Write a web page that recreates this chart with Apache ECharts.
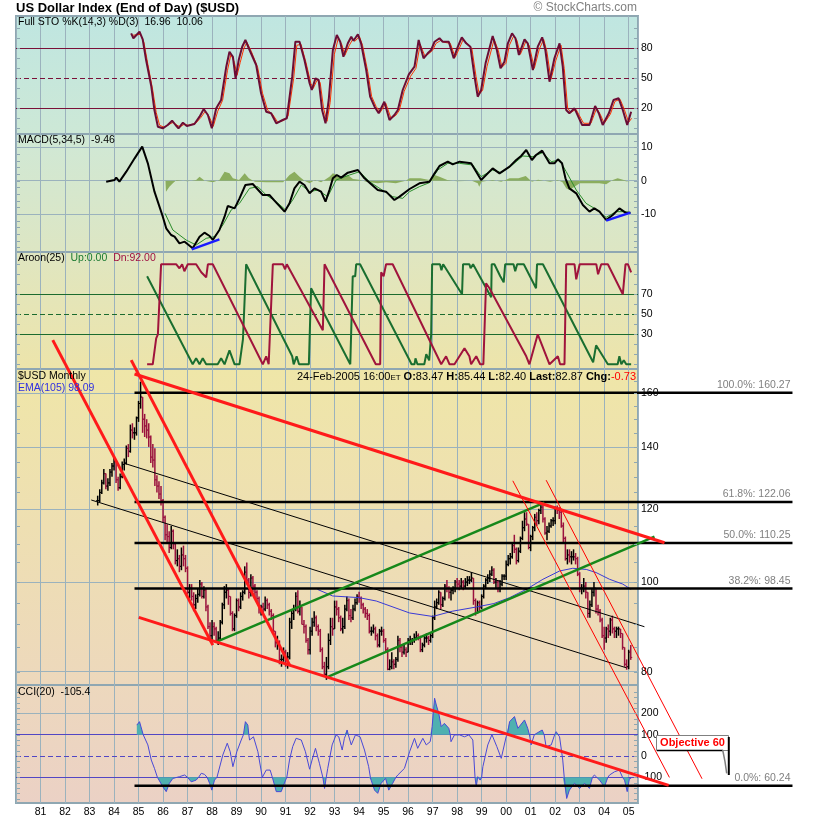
<!DOCTYPE html>
<html><head><meta charset="utf-8">
<script src="https://cdn.jsdelivr.net/npm/echarts@6/dist/echarts.min.js"></script>
<style>html,body{margin:0;padding:0;background:#fff}#c{width:820px;height:820px}</style>
</head><body><div id="c"></div>
<script>
// ---------------- DATA ----------------
const yearRange = [1980, 2005.38];
const usdFirstMonth = [1983, 5];
const usdClose = [
122.5,125.0,128.0,131.0,127.0,128.0,131.5,133.5,
135.0,129.0,126.5,130.0,134.0,134.5,139.5,138.5,146.0,145.0,145.0,150.5,
156.0,158.5,150.0,147.5,146.0,143.5,136.5,135.5,129.0,127.0,124.5,122.5,
117.5,112.5,112.0,109.0,113.5,110.0,105.5,106.0,104.0,107.0,106.0,103.5,
97.5,98.5,96.5,94.5,96.0,97.0,99.5,96.5,98.0,94.0,89.5,87.5,
89.5,89.0,86.5,87.0,90.5,94.5,97.5,98.0,96.5,92.5,89.0,92.0,
95.5,94.0,96.5,97.5,102.5,100.5,97.5,101.0,99.0,97.5,96.0,93.5,
94.0,93.5,95.5,94.5,93.0,92.0,88.5,86.0,86.0,82.5,82.5,84.0,
81.5,83.0,90.5,92.5,93.5,96.5,93.0,94.0,90.0,89.5,86.5,84.5,
88.5,90.5,91.5,89.5,88.5,84.5,81.0,79.5,81.0,86.5,89.5,89.0,
94.0,93.5,91.5,89.0,89.5,93.5,95.5,92.0,91.5,93.5,95.0,96.5,
96.0,94.5,93.5,92.5,92.0,88.5,88.5,89.0,87.5,85.5,88.5,88.5,
86.5,84.5,80.5,81.0,82.0,81.5,82.5,86.5,85.0,84.0,84.5,84.0,
86.5,86.5,86.5,87.0,87.5,87.0,84.5,85.5,87.0,87.0,86.5,87.5,
91.5,94.0,95.0,97.5,94.5,96.0,99.0,98.5,97.5,98.0,98.5,100.0,
99.5,99.0,100.0,99.0,100.0,100.5,100.5,101.0,95.5,92.5,95.0,94.0,
96.5,99.0,100.5,101.0,102.0,103.0,100.0,100.0,98.5,99.5,101.5,101.5,
104.5,106.0,106.5,109.5,108.5,105.5,108.0,111.5,114.5,117.0,115.5,109.0,
112.0,114.5,117.5,116.5,119.5,120.5,117.0,113.0,113.5,115.0,116.5,116.5,
120.0,119.5,119.0,115.0,111.5,106.0,107.0,106.5,106.5,106.5,106.0,102.0,
98.5,98.5,99.0,97.5,92.5,94.5,97.5,98.5,93.5,93.0,91.0,87.5,
87.0,89.0,88.5,91.0,89.0,88.5,89.0,89.0,88.0,85.0,81.5,81.0,
84.0,82.9];
const usdHigh = [
124.0,126.0,129.0,132.5,131.0,129.5,132.5,134.5,
136.5,135.5,130.0,131.0,135.0,136.0,140.5,141.0,148.0,148.5,147.0,151.0,
157.0,164.7,158.5,152.0,150.0,148.5,144.0,141.0,139.5,130.5,128.5,127.0,
123.0,118.0,115.5,113.5,115.0,114.0,110.5,108.5,107.0,109.0,109.5,107.0,
104.0,99.5,99.5,97.5,97.0,98.5,100.5,100.0,99.0,98.5,94.5,90.5,
91.0,90.5,89.5,88.5,91.0,95.0,99.0,99.5,98.5,96.5,93.0,92.5,
96.0,96.0,97.5,98.0,104.0,105.0,101.0,102.0,101.5,99.5,98.0,96.5,
94.5,95.0,96.5,96.0,95.0,93.5,92.5,88.5,87.5,86.5,83.5,85.0,
84.5,84.0,91.5,93.5,94.5,97.5,98.0,95.5,94.0,91.0,90.0,87.0,
89.5,91.5,93.0,92.0,90.0,89.0,85.0,82.0,83.0,88.0,91.5,91.5,
95.5,95.5,94.0,92.0,91.5,94.5,96.5,96.0,93.5,94.5,96.0,97.0,
97.6,96.5,95.0,94.0,93.5,92.5,89.5,90.0,89.5,88.0,89.0,89.5,
89.0,87.0,85.0,82.5,84.0,82.5,83.0,87.5,87.0,85.5,85.5,85.0,
87.0,87.5,87.0,88.0,88.5,88.0,87.5,86.0,87.5,88.0,87.5,88.0,
92.0,95.5,96.0,98.0,97.5,96.5,99.5,100.5,99.0,98.5,99.0,100.5,
101.0,100.5,101.0,100.5,101.0,101.5,101.5,102.5,101.0,96.0,95.5,95.5,
97.0,99.5,101.0,102.0,103.0,104.0,103.5,101.0,100.5,100.5,102.0,102.0,
105.5,107.0,107.5,110.0,112.5,109.0,109.0,112.0,116.5,119.0,119.0,115.5,
112.5,115.0,118.5,119.0,120.0,121.5,122.0,117.5,115.0,116.0,117.0,117.5,
120.7,121.0,120.5,119.5,116.0,112.0,108.5,108.5,108.0,108.5,107.5,106.5,
102.5,99.5,101.0,100.0,97.5,95.5,98.5,100.0,98.5,94.5,93.5,91.5,
89.5,89.5,90.0,91.5,92.0,89.5,89.5,89.5,89.0,88.0,85.0,82.5,
84.5,85.5];
const usdLow = [
121.0,122.0,124.5,127.5,126.0,125.5,127.0,130.0,
132.0,128.0,125.5,126.0,129.5,132.0,134.0,136.5,138.0,143.0,142.5,144.0,
149.0,154.0,145.0,143.5,143.0,140.0,134.5,133.0,127.0,125.0,123.0,121.0,
116.0,111.0,110.0,107.5,108.5,108.5,104.5,104.0,102.5,103.0,104.0,102.5,
97.0,96.0,95.5,93.0,93.5,95.0,96.5,96.0,96.0,93.0,89.0,86.5,
85.5,87.5,86.0,85.5,86.5,90.0,93.5,96.0,94.5,92.0,88.5,88.5,
91.5,93.0,93.5,95.5,97.0,99.5,96.0,96.5,97.5,96.0,95.0,92.5,
92.0,92.5,93.0,93.5,92.0,91.0,88.0,85.0,84.5,81.5,81.0,82.0,
81.0,80.6,82.5,89.0,91.0,93.0,92.5,92.0,90.0,88.0,86.0,83.5,
83.5,87.5,89.5,88.5,87.5,84.0,80.5,79.0,78.4,80.5,85.5,87.5,
89.0,92.0,90.5,88.5,88.0,89.0,93.0,91.0,90.5,91.0,93.0,94.5,
95.0,93.5,92.5,91.5,91.0,88.0,87.5,88.0,86.5,85.0,85.0,87.5,
86.0,84.0,80.3,80.3,80.5,80.5,80.8,82.0,84.0,83.0,83.5,83.0,
84.0,85.5,85.5,86.0,86.5,86.5,84.0,84.0,85.0,86.0,85.5,86.0,
87.0,91.0,93.5,94.5,93.5,94.0,95.5,97.5,96.0,95.5,97.0,97.5,
98.5,98.0,98.5,98.0,98.5,99.0,99.5,100.0,94.5,92.0,92.5,93.0,
93.5,96.0,98.5,99.5,100.0,101.5,99.5,98.5,97.5,97.5,99.0,100.5,
100.5,104.0,104.5,106.0,107.5,104.5,105.0,107.5,111.0,113.5,115.0,108.5,
108.0,111.0,113.5,115.0,115.5,118.5,116.0,112.5,111.0,113.0,114.5,115.0,
115.5,118.5,117.0,114.5,110.5,105.5,104.5,105.0,104.5,105.5,104.5,101.5,
97.5,97.0,97.5,96.0,91.5,91.5,94.0,96.5,92.5,92.0,90.5,87.0,
84.5,86.0,87.0,87.5,88.0,87.0,87.0,87.5,87.0,84.5,81.0,80.4,
80.5,82.4];

const emaLine = [[1992.30,98.2],[1992.92,96.6],[1994.0,96.2],[1994.7,95.4],[1996.06,92.6],[1997.0,91.8],[1997.8,93.0],[1998.8,94.0],[1999.5,94.8],[2000.14,96.2],[2000.82,98.2],[2001.5,100.7],[2002.18,102.8],[2002.72,103.5],[2003.27,103.2],[2003.67,102.4],[2004.22,100.7],[2004.76,99.5],[2005.10,98.2]];

const stoK = [[1984.70,95],[1984.79,90],[1985.04,96.6],[1985.17,89],[1985.31,68],[1985.52,42],[1985.65,18],[1985.79,1.6],[1985.99,0],[1986.19,3.3],[1986.37,7.6],[1986.51,3.3],[1986.63,0],[1986.81,5.6],[1986.97,2.3],[1987.28,4.3],[1987.49,11.6],[1987.66,19.3],[1987.83,13.3],[1987.99,0],[1988.17,20],[1988.37,28.3],[1988.58,61.6],[1988.71,76.6],[1988.85,71.6],[1988.96,50],[1989.09,68.6],[1989.23,81.6],[1989.36,88.3],[1989.53,78.3],[1989.80,63.3],[1990.0,35],[1990.21,16.6],[1990.41,15],[1990.62,5],[1990.88,8.3],[1991.05,10],[1991.27,51.6],[1991.40,86.6],[1991.57,86.6],[1991.77,68.3],[1991.98,45],[1992.07,38.3],[1992.22,50],[1992.35,48.3],[1992.49,18.3],[1992.63,5],[1992.76,28.3],[1992.93,78.3],[1993.09,93.3],[1993.23,86.6],[1993.36,71.6],[1993.54,85],[1993.68,91.6],[1993.77,87.6],[1993.95,94],[1994.08,85],[1994.29,58.3],[1994.45,31.6],[1994.63,21.6],[1994.80,15],[1995.03,26.6],[1995.24,8.3],[1995.44,13.3],[1995.58,18.3],[1995.78,38.3],[1996.03,54],[1996.26,61.6],[1996.43,88.3],[1996.63,70],[1996.80,75],[1996.94,78.3],[1997.08,86.6],[1997.28,90],[1997.41,86.6],[1997.66,86.6],[1997.86,70],[1998.03,81.6],[1998.19,91],[1998.37,85],[1998.54,81.6],[1998.71,51.6],[1998.84,31.6],[1998.98,38.3],[1999.16,65],[1999.45,92.3],[1999.62,78.3],[1999.77,60],[1999.93,66.6],[2000.07,85],[2000.24,95],[2000.38,90],[2000.52,73.3],[2000.75,89],[2000.88,85],[2001.09,58.3],[2001.29,81.6],[2001.47,91],[2001.60,78.3],[2001.77,46.6],[2001.97,70],[2002.18,85],[2002.31,61.6],[2002.45,18.3],[2002.58,15],[2002.79,20],[2003.10,3.3],[2003.40,3.3],[2003.63,22.3],[2003.78,15],[2003.94,3.3],[2004.19,15],[2004.38,28.3],[2004.59,30],[2004.76,18.3],[2004.94,3.3],[2005.10,16.6]];
const stoD = [[1984.75,93],[1985.08,94],[1985.22,86],[1985.38,64],[1985.58,38],[1985.72,16],[1985.86,3],[1986.05,1],[1986.25,4],[1986.42,6],[1986.57,3],[1986.7,1.5],[1986.86,4],[1987.03,3],[1987.33,5],[1987.55,11],[1987.72,17],[1987.88,12],[1988.05,2],[1988.23,17],[1988.43,28],[1988.63,58],[1988.77,74],[1988.91,66],[1989.02,53],[1989.15,66],[1989.3,80],[1989.42,86],[1989.6,77],[1989.86,61],[1990.06,35],[1990.27,18],[1990.47,14],[1990.68,6],[1990.93,8],[1991.1,12],[1991.33,50],[1991.46,83],[1991.63,84],[1991.83,66],[1992.03,45],[1992.13,40],[1992.28,48],[1992.41,46],[1992.55,20],[1992.69,7],[1992.82,26],[1992.99,74],[1993.15,90],[1993.29,84],[1993.42,73],[1993.6,83],[1993.74,89],[1993.83,87],[1994.01,92],[1994.14,83],[1994.35,57],[1994.51,32],[1994.69,22],[1994.86,16],[1995.09,25],[1995.3,10],[1995.5,13],[1995.64,18],[1995.84,37],[1996.1,52],[1996.32,60],[1996.49,84],[1996.69,72],[1996.86,75],[1997.0,78],[1997.14,85],[1997.34,88],[1997.47,86],[1997.72,85],[1997.92,71],[1998.09,80],[1998.25,89],[1998.43,84],[1998.6,80],[1998.77,52],[1998.9,34],[1999.04,38],[1999.22,62],[1999.51,89],[1999.68,78],[1999.83,61],[1999.99,65],[2000.13,83],[2000.3,92],[2000.44,88],[2000.58,74],[2000.81,87],[2000.94,83],[2001.15,60],[2001.35,79],[2001.53,89],[2001.66,77],[2001.83,49],[2002.03,68],[2002.24,83],[2002.37,60],[2002.51,20],[2002.64,16],[2002.85,19],[2003.16,5],[2003.46,5],[2003.69,20],[2003.84,14],[2004.0,5],[2004.25,14],[2004.44,27],[2004.65,29],[2004.82,19],[2005.0,6],[2005.12,10]];

const macdLine = [[1983.68,-0.3],[1984.02,0.2],[1984.09,0.9],[1984.22,-0.3],[1984.50,2.7],[1984.84,6.7],[1985.15,10.2],[1985.38,5.2],[1985.65,-3.3],[1985.99,-10.8],[1986.13,-14.3],[1986.33,-16.3],[1986.47,-16.8],[1986.67,-18.8],[1986.88,-18.3],[1987.21,-20.3],[1987.49,-16.8],[1987.69,-15.6],[1987.90,-16.6],[1988.03,-17.8],[1988.30,-14.8],[1988.51,-10.8],[1988.64,-7.6],[1988.92,-8.3],[1989.12,-5.3],[1989.36,-1.3],[1989.66,-1],[1990.07,-4.3],[1990.34,-4.3],[1990.62,-6.6],[1990.96,-9.3],[1991.16,-6.8],[1991.36,-2.3],[1991.57,-0.3],[1991.77,-1.3],[1991.98,-3.8],[1992.18,-2.3],[1992.45,-3.3],[1992.63,-6.3],[1992.79,-2.8],[1992.93,0.7],[1993.09,1.7],[1993.27,0.9],[1993.54,2.4],[1993.95,3.2],[1994.22,0.7],[1994.76,-2.8],[1995.10,-3.3],[1995.44,-5.8],[1995.65,-4.8],[1996.06,-2.5],[1996.46,-0.8],[1996.87,-0.3],[1997.08,2.2],[1997.28,4.4],[1997.62,5.7],[1997.82,4.9],[1998.10,5.7],[1998.57,5.2],[1998.98,0.2],[1999.45,3.7],[1999.73,2.2],[2000.14,4.2],[2000.41,6.2],[2000.61,7.4],[2000.82,9.2],[2001.05,6.2],[2001.22,7.7],[2001.47,9],[2001.77,5.2],[2001.97,5.2],[2002.11,6.4],[2002.28,5.2],[2002.42,0.7],[2002.58,-2.3],[2002.86,-3.8],[2003.13,-7.3],[2003.40,-9.3],[2003.60,-8.3],[2003.81,-9.3],[2004.08,-11.8],[2004.35,-10.3],[2004.62,-8.3],[2004.87,-9.6],[2005.07,-9.6]];
const macdSignal = [[1986.08,-9.8],[1986.40,-14.8],[1986.94,-17.8],[1987.35,-19.3],[1987.76,-17.3],[1988.10,-16.8],[1988.44,-13.3],[1988.78,-8.8],[1989.12,-6.8],[1989.53,-2.3],[1989.87,-1.8],[1990.21,-4.3],[1990.62,-6.3],[1991.0,-8.8],[1991.29,-5.8],[1991.64,-1.3],[1991.98,-3.3],[1992.31,-2.8],[1992.72,-4.8],[1993.06,0.2],[1993.61,1.7],[1994.02,2.7],[1994.42,-0.3],[1994.90,-2.6],[1995.37,-4.8],[1995.78,-5.3],[1996.06,-3.3],[1996.46,-1.8],[1996.87,-0.6],[1997.21,3.2],[1997.62,5.2],[1998.10,5.2],[1998.64,4.7],[1998.98,1.2],[1999.45,3.2],[1999.80,2.4],[2000.20,4.4],[2000.68,7.4],[2001.09,7.2],[2001.49,8.4],[2001.84,5.7],[2002.18,6.2],[2002.45,2.7],[2002.86,-2.8],[2003.26,-6.8],[2003.67,-8.6],[2004.08,-11],[2004.49,-9.3],[2004.83,-9.3],[2005.07,-9.6]];
const macdHist = [[1986.10,0],[1986.12,-3.3],[1986.26,-1.8],[1986.40,-0.8],[1986.55,0.2],[1987.0,-0.2],[1987.35,0.2],[1987.49,1.2],[1987.7,0],[1988.03,-0.5],[1988.3,0.2],[1988.51,2.7],[1988.71,2.2],[1988.85,0.7],[1989.1,0.2],[1989.33,2.2],[1989.5,0.7],[1989.75,-0.3],[1990.2,-0.5],[1990.9,-0.5],[1991.16,1.7],[1991.36,2.7],[1991.57,1.2],[1991.77,0],[1991.98,-0.8],[1992.2,0.2],[1992.45,-0.5],[1992.79,1.2],[1992.93,2.2],[1993.1,1.7],[1993.3,0.7],[1993.54,1.7],[1993.75,0.5],[1994.0,0.3],[1994.3,-0.3],[1994.76,-0.8],[1995.1,-0.5],[1995.5,-0.8],[1995.9,0],[1996.06,0.7],[1996.5,0.7],[1996.87,0.2],[1997.08,1.7],[1997.28,1.2],[1997.6,0.2],[1998.0,-0.2],[1998.6,0],[1998.84,-0.8],[1998.90,-1.8],[1999.0,-0.3],[1999.45,0.2],[1999.8,-0.3],[2000.14,0.7],[2000.5,0.7],[2000.8,1.4],[2001.05,-0.3],[2001.3,0.3],[2001.8,-0.3],[2002.1,0.2],[2002.3,-0.5],[2002.45,-2.3],[2002.58,-2.8],[2002.79,-1.8],[2003.0,-0.8],[2003.4,-0.8],[2003.8,-0.8],[2004.08,-1.1],[2004.35,0.2],[2004.55,0.7],[2004.8,0.2],[2005.07,-0.5]];
const macdDivergence = [[[1987.17,-20.6],[1988.30,-17.6]], [[2004.08,-12.0],[2005.07,-9.6]]];

const aroonUp = [[1985.35,88],[1987.21,0],[1987.35,6],[1987.49,0],[1987.62,6],[1987.76,0],[1988.23,0],[1988.37,6],[1988.51,0],[1988.71,14],[1988.92,0],[1989.12,0],[1989.26,25],[1989.39,100],[1991.27,8],[1991.33,0],[1991.45,8],[1991.55,0],[1991.95,0],[1992.04,76],[1993.64,0],[1993.72,0],[1993.74,88],[1993.84,88],[1993.88,100],[1994.04,100],[1996.06,4],[1996.14,0],[1996.26,0],[1996.3,6],[1996.38,0],[1996.66,0],[1996.74,10],[1996.86,4],[1996.94,30],[1996.98,100],[1997.3,100],[1997.36,94],[1997.43,100],[1998.2,70],[1998.24,100],[1998.5,100],[1998.55,96],[1998.65,100],[1999.39,67],[1999.41,100],[1999.52,100],[1999.76,88],[1999.9,82],[1999.96,100],[2000.3,100],[2000.37,93],[2000.45,100],[2000.72,100],[2001.22,76],[2001.26,100],[2001.5,100],[2003.55,2],[2003.58,0],[2003.67,19],[2004.15,0],[2004.55,0],[2004.62,8],[2004.7,0],[2004.8,4],[2004.9,0],[2005.1,0]];
const aroonDown = [[1985.35,0],[1985.58,0],[1985.72,26],[1985.79,30],[1985.92,100],[1986.54,100],[1986.67,96],[1986.78,100],[1986.87,93],[1987.01,100],[1987.35,100],[1987.56,92],[1987.76,87],[1987.83,100],[1988.03,100],[1990.07,0],[1990.21,8],[1990.31,0],[1990.48,100],[1990.89,100],[1990.98,95],[1991.05,100],[1992.52,34],[1992.59,100],[1994.68,0],[1994.86,0],[1994.9,92],[1995.0,88],[1995.1,100],[1995.37,100],[1997.35,0],[1997.55,8],[1997.69,0],[1997.89,0],[1998.30,16],[1998.50,8],[1998.57,0],[1998.78,8],[1998.94,0],[1999.07,0],[1999.18,81],[1999.32,76],[2000.82,8],[2000.95,0],[2001.29,30],[2001.77,0],[2002.11,8],[2002.2,0],[2002.38,0],[2002.45,100],[2002.79,100],[2002.86,85],[2003.00,100],[2003.68,100],[2003.75,90],[2003.88,100],[2004.15,100],[2004.76,70],[2004.87,100],[2004.97,100],[2005.10,92]];

const cciLine = [[1984.93,145],[1985.04,161],[1985.11,169],[1985.19,100],[1985.38,52],[1985.52,-19],[1985.65,-58],[1985.77,-100],[1985.99,-144],[1986.13,-167],[1986.26,-128],[1986.40,-105],[1986.45,-100],[1986.67,-97],[1986.88,-89],[1987.0,-100],[1987.15,-121],[1987.35,-113],[1987.45,-100],[1987.56,-81],[1987.69,-86],[1987.8,-100],[1987.90,-128],[1987.99,-160],[1988.10,-113],[1988.2,-100],[1988.27,-97],[1988.44,5],[1988.62,60],[1988.74,20],[1988.85,-50],[1989.01,20],[1989.19,75],[1989.28,100],[1989.36,161],[1989.46,145],[1989.5,100],[1989.53,75],[1989.69,90],[1989.87,20],[1990.05,-100],[1990.07,-105],[1990.13,-100],[1990.21,-66],[1990.37,-66],[1990.46,-100],[1990.48,-105],[1990.62,-167],[1990.82,-167],[1991.00,-113],[1991.05,-100],[1991.16,-19],[1991.29,44],[1991.43,83],[1991.64,75],[1991.81,20],[1991.98,-62],[1992.08,-19],[1992.22,36],[1992.38,-34],[1992.52,-100],[1992.59,-152],[1992.66,-100],[1992.72,-58],[1992.90,52],[1993.06,99],[1993.17,90],[1993.31,28],[1993.40,83],[1993.46,100],[1993.51,122],[1993.56,100],[1993.68,52],[1993.85,99],[1994.04,90],[1994.22,28],[1994.39,-50],[1994.46,-100],[1994.49,-113],[1994.63,-160],[1994.76,-175],[1994.90,-128],[1995.08,-105],[1995.21,-160],[1995.37,-128],[1995.5,-100],[1995.58,-89],[1995.85,-58],[1996.06,20],[1996.26,83],[1996.39,36],[1996.60,83],[1996.74,52],[1996.90,67],[1996.95,100],[1996.98,138],[1997.08,271],[1997.15,239],[1997.25,200],[1997.35,138],[1997.48,153],[1997.66,130],[1997.72,100],[1997.75,67],[1997.89,99],[1998.10,99],[1998.30,90],[1998.48,99],[1998.64,75],[1998.73,-100],[1998.78,-144],[1998.84,-97],[1998.94,-113],[1999.0,-100],[1999.05,-50],[1999.25,52],[1999.42,100],[1999.45,106],[1999.48,100],[1999.62,44],[1999.80,-11],[2000.0,90],[2000.05,100],[2000.14,161],[2000.34,185],[2000.48,130],[2000.75,169],[2000.88,130],[2000.95,100],[2001.02,52],[2001.15,100],[2001.20,106],[2001.47,122],[2001.55,100],[2001.63,44],[2001.84,52],[2001.98,100],[2002.04,114],[2002.12,100],[2002.18,90],[2002.31,-19],[2002.37,-100],[2002.38,-105],[2002.47,-199],[2002.58,-160],[2002.79,-128],[2003.00,-152],[2003.20,-128],[2003.40,-152],[2003.52,-100],[2003.60,-89],[2003.70,-100],[2003.81,-113],[2004.01,-144],[2004.15,-100],[2004.22,-89],[2004.42,-74],[2004.62,-66],[2004.75,-100],[2004.83,-113],[2004.94,-167],[2005.03,-105],[2005.10,-105]];

const stoLevels = [80, 50, 20];
const macdLevels = [10, 0, -10];
const aroonLevels = [70, 50, 30];
const priceLevels = [160, 140, 120, 100, 80];
const cciLevels = [200, 100, 0, -100];

const stoMinorTicks = [0, 10, 20, 30, 40, 50, 60, 70, 80, 90, 100];
const macdMinorTicks = [-20, -18, -16, -14, -12, -10, -8, -6, -4, -2, 0, 2, 4, 6, 8, 10, 12];
const aroonMinorTicks = [0, 10, 20, 30, 40, 50, 60, 70, 80, 90, 100];
const priceMinorTicks = [80, 85, 90, 95, 100, 105, 110, 115, 120, 125, 130, 135, 140, 145, 150, 155, 160, 165];
const cciMinorTicks = [-200, -175, -150, -125, -100, -75, -50, -25, 0, 25, 50, 75, 100, 125, 150, 175, 200, 225, 250, 275, 300];

const fibLevels = [160.27, 122.06, 110.25, 98.45, 60.24];
const fibNames = ['100.0%', '61.8%', '50.0%', '38.2%', '0.0%'];
const fibSpan = [1984.835, 2011.68];
const redThickLines = [[[1984.835,167.9],[2006.46,110.3]], [[1985.01,91.6],[2006.63,60.3]], [[1981.50,182.7],[1988.03,85.5]], [[1984.70,173.8],[1991.16,81.4]]];
const redThinLines = [[[2000.27,128.7],[2006.66,61.5]], [[2001.63,128.9],[2007.99,61.3]]];
const greenLines = [[[1988.17,86.2],[2001.56,121.9]], [[1992.72,79.0],[2006.05,112.0]]];
const blackThinLines = [[[1984.43,134.4],[2005.64,89.5]], [[1983.07,122.7],[2004.90,80.8]]];

// ---------------- CHART ----------------
const FONT = 'Liberation Sans, Arial, sans-serif';
const chart = echarts.init(document.getElementById('c'), null, {renderer: 'canvas', width: 820, height: 820});
const grad = (a, b) => new echarts.graphic.LinearGradient(0, 0, 0, 1, [{offset: 0, color: a}, {offset: 1, color: b}]);
const GRID_COLOR = '#9bb2bd';

const priceBars = usdClose.map((c, i) => {
  const x = usdFirstMonth[0] + (usdFirstMonth[1] - 1 + i) / 12;
  const o = i > 0 ? usdClose[i - 1] : c;
  return [x, usdHigh[i], usdLow[i], c, o, c >= o ? 1 : 0];
});

function renderBar(params, api) {
  const x = api.value(0);
  const pH = api.coord([x, api.value(1)]);
  const pL = api.coord([x, api.value(2)]);
  const pC = api.coord([x, api.value(3)]);
  const pO = api.coord([x, api.value(4)]);
  const col = api.value(5) ? '#000000' : '#9a123e';
  return {type: 'group', children: [
    {type: 'line', shape: {x1: pH[0], y1: pH[1], x2: pL[0], y2: pL[1]}, style: {stroke: col, lineWidth: 1.5}},
    {type: 'line', shape: {x1: pC[0], y1: pC[1], x2: pC[0] + 1.5, y2: pC[1]}, style: {stroke: col, lineWidth: 1}},
    {type: 'line', shape: {x1: pO[0] - 1.5, y1: pO[1], x2: pO[0], y2: pO[1]}, style: {stroke: col, lineWidth: 1}}
  ]};
}

const gridBoxes = [
  {top: 16, height: 118, bg: grad('#bfe6e1', '#cde8d6')},
  {top: 134, height: 118, bg: grad('#cfe8d6', '#dde6c3')},
  {top: 252, height: 117, bg: grad('#dfe6c1', '#ede4aa')},
  {top: 369, height: 316, bg: grad('#efe6a8', '#edd8bc')},
  {top: 685, height: 118, bg: grad('#edd8bd', '#ebd1c5')}
];
const grids = gridBoxes.map(g => ({left: 16, top: g.top, width: 622, height: g.height, show: true,
  backgroundColor: g.bg, borderColor: '#8fa7b2', borderWidth: 2}));
grids.push({left: 16, top: 330, width: 784, height: 470, show: false});

const xAxes = gridBoxes.map((g, i) => ({
  type: 'value', gridIndex: i, min: yearRange[0], max: yearRange[1], interval: 1,
  axisLine: {show: false}, axisTick: {show: false},
  axisLabel: {show: i === 4, color: '#000', fontSize: 10.5, fontFamily: FONT, margin: 4,
    formatter: v => (v > 1980.5 && Math.abs(v - Math.round(v)) < 1e-6) ? String(Math.round(v) % 100).padStart(2, '0') : ''},
  splitLine: {show: true, lineStyle: {color: GRID_COLOR, width: 1}}
}));
xAxes.push({type: 'value', gridIndex: 5, min: 1980, max: 2011.987, show: false});

const yAxes = [
  {type: 'value', gridIndex: 0, min: -5.7, max: 112.3, show: false},
  {type: 'value', gridIndex: 1, min: -21.4, max: 14.0, show: false},
  {type: 'value', gridIndex: 2, min: -4.7, max: 112.3, show: false},
  {type: 'log', gridIndex: 3, min: 77.40, max: 169.97, show: false},
  {type: 'value', gridIndex: 4, min: -220.3, max: 332.9, show: false},
  {type: 'log', gridIndex: 5, min: 58.14, max: 187.34, show: false}
];

const mlLabel = {show: true, position: 'end', color: '#000', fontSize: 10.5, fontFamily: FONT, distance: 3};
function levelSeries(idx, levels, styleFn) {
  return {type: 'line', xAxisIndex: idx, yAxisIndex: idx, data: [], silent: true, z: 1,
    markLine: {silent: true, symbol: 'none', animation: false, z: 1, label: mlLabel,
      data: levels.map(v => ({yAxis: v, lineStyle: styleFn(v), label: {formatter: String(v)}}))}};
}
const ln = (idx, data, color, width, z, extra) => Object.assign({type: 'line', xAxisIndex: idx, yAxisIndex: idx, data,
  showSymbol: false, symbol: 'none', silent: true, z: z || 3, lineStyle: {color, width}}, extra || {});

const series = [];
// STO
series.push(levelSeries(0, stoLevels, v => ({color: '#7a1038', width: 1, type: v === 50 ? [5, 3] : 'solid'})));
series.push(ln(0, stoD, '#ff3300', 1, 3));
series.push(ln(0, stoK, '#6b0d35', 2, 4));
// MACD
series.push(levelSeries(1, macdLevels, v => ({color: GRID_COLOR, width: 1, type: 'solid'})));
series.push(ln(1, macdHist, '#8bad5e', 0, 2, {areaStyle: {color: '#8bad5e', opacity: 1, origin: 0}}));
series.push(ln(1, macdSignal, '#2a8c2a', 1, 3));
series.push(ln(1, macdLine, '#000000', 2, 4));
macdDivergence.forEach(d => series.push(ln(1, d, '#1a1aff', 2.5, 5)));
// Aroon
series.push(levelSeries(2, aroonLevels, v => ({color: '#1c6b2e', width: 1, type: v === 50 ? [5, 3] : 'solid'})));
series.push(ln(2, aroonUp, '#1a6e30', 2, 3));
series.push(ln(2, aroonDown, '#a0143c', 2, 3));
// Price
series.push(levelSeries(3, priceLevels, v => ({color: GRID_COLOR, width: 1, type: 'solid'})));
series.push({type: 'custom', xAxisIndex: 3, yAxisIndex: 3, data: priceBars, renderItem: renderBar,
  encode: {x: 0, y: [1, 2]}, z: 3, silent: true, clip: true});
series.push(ln(3, emaLine, '#3a3ad6', 1, 4));
// CCI
series.push(levelSeries(4, cciLevels, v => v === 200 ? {color: GRID_COLOR, width: 1, type: 'solid'} :
  {color: '#5246c4', width: 1, type: v === 0 ? [5, 3] : 'solid'}));
series.push(ln(4, cciLine.map(p => [p[0], Math.max(p[1], 100)]), '#4fb0b0', 0, 2, {areaStyle: {color: '#4fb0b0', opacity: 1, origin: 100}}));
series.push(ln(4, cciLine.map(p => [p[0], Math.min(p[1], -100)]), '#4fb0b0', 0, 2, {areaStyle: {color: '#4fb0b0', opacity: 1, origin: -100}}));
series.push(ln(4, cciLine, '#4848d8', 1, 4));
// Overlay annotations
blackThinLines.forEach(d => series.push(ln(5, d, '#000000', 1, 5)));
fibLevels.forEach(v => series.push(ln(5, [[fibSpan[0], v], [fibSpan[1], v]], '#000000', 2.5, 5)));
greenLines.forEach(d => series.push(ln(5, d, '#16881a', 2.5, 6)));
redThinLines.forEach(d => series.push(ln(5, d, '#ff0000', 1, 6)));
redThickLines.forEach(d => series.push(ln(5, d, '#ff1a1a', 3, 7)));

const txt = (x, y, text, opts) => ({type: 'text', x, y, silent: true, z: 20,
  style: Object.assign({text, fill: '#000', font: '10.5px ' + FONT, align: 'left', verticalAlign: 'top'}, opts || {})});

chart.setOption({
  animation: false,
  backgroundColor: '#ffffff',
  grid: grids, xAxis: xAxes, yAxis: yAxes, series
});

const graphics = [
  txt(16, 1.5, 'US Dollar Index (End of Day) ($USD)', {font: 'bold 13px ' + FONT}),
  txt(637, 2, '\u00a9 StockCharts.com', {font: '12px ' + FONT, fill: '#808080', align: 'right'}),
  txt(18, 17, 'Full STO %K(14,3) %D(3)  16.96  10.06'),
  txt(18, 135, 'MACD(5,34,5)  -9.46'),
  txt(18, 253, '{k|Aroon(25)}  {g|Up:0.00}  {r|Dn:92.00}', {rich: {
    k: {fill: '#000', font: '10.5px ' + FONT}, g: {fill: '#1a7a30', font: '10.5px ' + FONT}, r: {fill: '#a01040', font: '10.5px ' + FONT}}}),
  txt(18, 371, '$USD Monthly'),
  txt(18, 383, 'EMA(105) 98.09', {fill: '#3030e0'}),
  txt(636, 371, '{n|24-Feb-2005 16:00}{s|ET} {b|O:}{n|83.47} {b|H:}{n|85.44} {b|L:}{n|82.40} {b|Last:}{n|82.87} {b|Chg:}{r|-0.73}',
    {align: 'right', rich: {
      n: {fill: '#000', font: '11px ' + FONT},
      s: {fill: '#000', font: '8px ' + FONT, verticalAlign: 'bottom'},
      b: {fill: '#000', font: 'bold 11px ' + FONT},
      r: {fill: '#ff0000', font: '11px ' + FONT}}}),
  txt(18, 687, 'CCI(20)  -105.4'),
  // Objective callout
  {type: 'rect', shape: {x: 656.5, y: 735.5, width: 72, height: 15}, style: {fill: '#ffffff', stroke: '#808080', lineWidth: 1}, z: 20, silent: true},
  {type: 'line', shape: {x1: 657, y1: 750.5, x2: 723, y2: 750.5}, style: {stroke: '#000', lineWidth: 1.5}, z: 21, silent: true},
  {type: 'polyline', shape: {points: [[722.7, 750], [725, 761.7], [726.7, 773.3]]}, style: {stroke: '#808080', lineWidth: 1.5, fill: null}, z: 21, silent: true},
  {type: 'line', shape: {x1: 728.8, y1: 737, x2: 728.8, y2: 775}, style: {stroke: '#000', lineWidth: 2}, z: 21, silent: true},
  txt(692.5, 737, 'Objective 60', {font: 'bold 11px ' + FONT, fill: '#ff0000', align: 'center'})
];
fibLevels.forEach((v, i) => {
  const p = chart.convertToPixel({xAxisIndex: 5, yAxisIndex: 5}, [fibSpan[1], v]);
  graphics.push(txt(p[0] - 2, p[1] - 2, fibNames[i] + ': ' + v.toFixed(2), {fill: '#808080', align: 'right', verticalAlign: 'bottom'}));
});
// small edge ticks along the left and right frame of each panel
const tickSets = [[0, stoMinorTicks], [1, macdMinorTicks], [2, aroonMinorTicks], [3, priceMinorTicks], [4, cciMinorTicks]];
tickSets.forEach(([g, vals]) => {
  vals.forEach(v => {
    const p = chart.convertToPixel({xAxisIndex: g, yAxisIndex: g}, [yearRange[0], v]);
    const q = chart.convertToPixel({xAxisIndex: g, yAxisIndex: g}, [yearRange[1], v]);
    graphics.push({type: 'line', silent: true, z: 9, shape: {x1: p[0] + 1, y1: Math.round(p[1]) + 0.5, x2: p[0] + 4, y2: Math.round(p[1]) + 0.5}, style: {stroke: '#8fa7b2', lineWidth: 1}});
    graphics.push({type: 'line', silent: true, z: 9, shape: {x1: q[0] - 4, y1: Math.round(q[1]) + 0.5, x2: q[0] - 1, y2: Math.round(q[1]) + 0.5}, style: {stroke: '#8fa7b2', lineWidth: 1}});
  });
});
chart.setOption({graphic: graphics});
</script>
</body></html>
